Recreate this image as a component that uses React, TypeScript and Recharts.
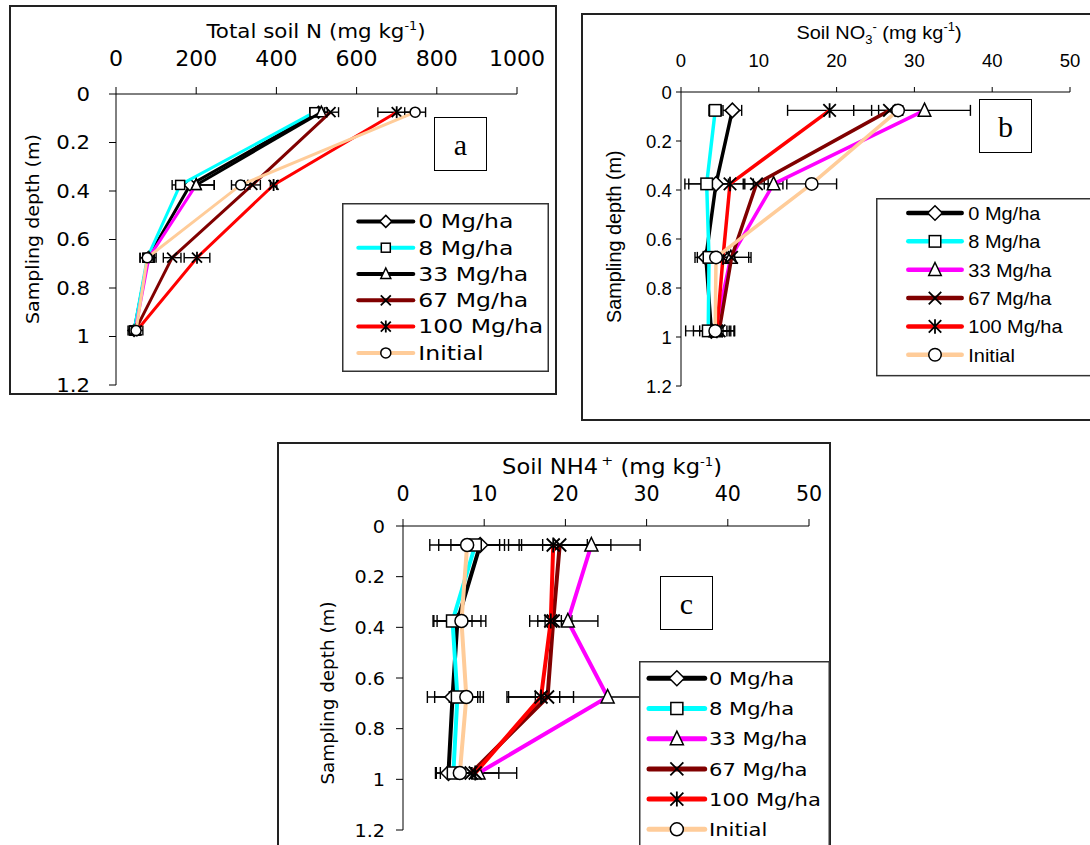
import React from "react";
import { ScatterChart, Scatter, XAxis, YAxis, ErrorBar, Legend } from "recharts";

// depth of each sampling layer midpoint (m)
const DEPTHS = [0.075, 0.375, 0.675, 0.975];
const DEPTH_TICKS = [0, 0.2, 0.4, 0.6, 0.8, 1, 1.2];

const SERIES = ["0 Mg/ha", "8 Mg/ha", "33 Mg/ha", "67 Mg/ha", "100 Mg/ha", "Initial"];
const MARKERS = ["diamond", "square", "triangle", "cross", "star", "circle"];
const COLORS = ["#000000", "#00ffff", "#ff00ff", "#800000", "#ff0000", "#ffcc99"];

// (a) total soil N, mg/kg — one row per series, one value per depth
const TOTAL_N_TICKS = [0, 200, 400, 600, 800, 1000];
const TOTAL_N = [
  [505, 185, 80, 45],
  [495, 160, 78, 45],
  [512, 200, 82, 48],
  [535, 340, 140, 48],
  [700, 393, 202, 52],
  [746, 311, 78, 50],
];
const TOTAL_N_ERR = [
  [15, 20, 20, 15],
  [12, 20, 18, 12],
  [15, 45, 12, 12],
  [20, 20, 22, 10],
  [47, 8, 32, 15],
  [26, 23, 10, 8],
];

// (b) soil NO3-, mg/kg
const NO3_TICKS = [0, 10, 20, 30, 40, 50];
const NO3 = [
  [6.6, 4.5, 3.2, 3.9],
  [4.4, 3.3, 3.6, 3.5],
  [31.3, 11.9, 6.4, 4.4],
  [26.8, 9.7, 6.5, 4.9],
  [19.1, 6.3, 5.4, 4.6],
  [27.9, 16.8, 4.5, 4.4],
];
const NO3_ERR = [
  [1.2, 3.5, 1.4, 2.3],
  [0.8, 2.8, 1.5, 2.9],
  [5.9, 1.2, 2.3, 1.5],
  [4.6, 1.5, 2.5, 2.0],
  [5.4, 3.0, 1.5, 2.2],
  [0.6, 3.2, 0.8, 1.0],
];

// (c) soil NH4+, mg/kg
const NH4_TICKS = [0, 10, 20, 30, 40, 50];
const NH4 = [
  [9.5, 6.7, 6.1, 5.6],
  [8.9, 6.1, 6.7, 6.2],
  [23.2, 20.3, 25.2, 9.3],
  [19.3, 18.5, 17.8, 8.4],
  [18.5, 18.2, 17.0, 8.9],
  [7.9, 7.2, 7.8, 7.0],
];
const NH4_ERR = [
  [5.1, 2.9, 3.1, 1.5],
  [3.0, 2.4, 2.8, 2.2],
  [6.0, 3.7, 12.4, 4.7],
  [6.3, 1.0, 1.5, 1.0],
  [4.2, 2.6, 4.0, 2.9],
  [4.6, 3.0, 2.1, 1.5],
];

const DEJAVU = "'DejaVu Sans', Verdana, sans-serif";
const ARIAL = "'Liberation Sans', Arial, sans-serif";
const AXIS_STYLE = { stroke: "#000", strokeWidth: 1 };

// the source figure's text is a little stretched sideways, so scale x only
function SText({ x, y, size, family, anchor = "start", stretch = 1, rotate = 0, children }: any) {
  const t = `translate(${x},${y})${rotate ? ` rotate(${rotate})` : ""} scale(${stretch},1)`;
  return (
    <text transform={t} fontSize={size} fontFamily={family} textAnchor={anchor} fill="#000">
      {children}
    </text>
  );
}

function Marker({ kind, cx, cy, size }: { kind: string; cx: number; cy: number; size: number }) {
  const h = size / 2;
  const box = { fill: "#fff", stroke: "#000", strokeWidth: 1.5 };
  const pen = { fill: "none", stroke: "#000", strokeWidth: 1.8 };
  switch (kind) {
    case "diamond":
      return <polygon points={`${cx},${cy - h - 1} ${cx + h + 1},${cy} ${cx},${cy + h + 1} ${cx - h - 1},${cy}`} {...box} />;
    case "square":
      return <rect x={cx - h + 0.5} y={cy - h + 0.5} width={size - 1} height={size - 1} {...box} />;
    case "triangle":
      return <polygon points={`${cx},${cy - h - 1} ${cx + h},${cy + h - 0.5} ${cx - h},${cy + h - 0.5}`} {...box} />;
    case "cross":
      return <path d={`M${cx - h},${cy - h}L${cx + h},${cy + h}M${cx - h},${cy + h}L${cx + h},${cy - h}`} {...pen} />;
    case "star":
      return (
        <path
          d={`M${cx - h},${cy - h}L${cx + h},${cy + h}M${cx - h},${cy + h}L${cx + h},${cy - h}M${cx},${cy - h - 1}L${cx},${cy + h + 1}`}
          {...pen}
        />
      );
    default:
      return <circle cx={cx} cy={cy} r={h} {...box} />;
  }
}

function buildSeries(values: number[][], errs: number[][]) {
  return SERIES.map((name, i) => ({
    key: name,
    color: COLORS[i],
    marker: MARKERS[i],
    points: DEPTHS.map((d, j) => ({ x: values[i][j], y: d, err: errs[i][j] })),
  }));
}

function LegendBox({ lg, colors }: any) {
  return (
    <svg width={lg.w} height={lg.h} style={{ display: "block" }}>
      <rect x={0.75} y={0.75} width={lg.w - 1.5} height={lg.h - 1.5} fill="#fff" stroke="#333" strokeWidth={1.5} />
      {SERIES.map((name, i) => {
        const y = lg.row0 + i * lg.dy;
        return (
          <g key={name}>
            <line x1={lg.x0} x2={lg.x1} y1={y} y2={y} stroke={colors[i]} strokeWidth={lg.lw} strokeLinecap="round" />
            <Marker kind={MARKERS[i]} cx={(lg.x0 + lg.x1) / 2} cy={y} size={lg.ms} />
            <SText x={lg.tx} y={y + lg.fs * 0.36} size={lg.fs} family={lg.font} stretch={lg.stretch}>
              {name}
            </SText>
          </g>
        );
      })}
    </svg>
  );
}

function Panel({ cfg, drawn, legendColors }: any) {
  const xTick = (p: any) => (
    <SText x={p.x} y={cfg.xt.base} size={cfg.xt.fs} family={cfg.font} anchor="middle" stretch={cfg.xt.stretch}>
      {String(p.payload.value)}
    </SText>
  );
  const yTick = (p: any) => (
    <SText x={cfg.yt.right} y={p.y + cfg.yt.fs * 0.36} size={cfg.yt.fs} family={cfg.font} anchor="end" stretch={cfg.yt.stretch}>
      {String(p.payload.value)}
    </SText>
  );
  const yTitle = () => (
    <SText x={cfg.ytitle.x} y={cfg.ytitle.y} size={cfg.ytitle.fs} family={cfg.font} anchor="middle" rotate={-90} stretch={cfg.ytitle.stretch}>
      Sampling depth (m)
    </SText>
  );
  const lg = cfg.legend;
  return (
    <div style={{ position: "absolute", left: cfg.left, top: cfg.top }}>
      <ScatterChart width={cfg.w} height={cfg.h} margin={cfg.margin}>
        <XAxis
          type="number"
          dataKey="x"
          orientation="top"
          domain={[cfg.xTicks[0], cfg.xTicks[cfg.xTicks.length - 1]]}
          ticks={cfg.xTicks}
          interval={0}
          allowDataOverflow
          height={50}
          tickSize={cfg.tickLen}
          axisLine={AXIS_STYLE}
          tickLine={AXIS_STYLE}
          tick={xTick}
          label={() => cfg.title}
        />
        <YAxis
          type="number"
          dataKey="y"
          reversed
          domain={[0, 1.2]}
          ticks={DEPTH_TICKS}
          interval={0}
          allowDataOverflow
          width={50}
          tickSize={cfg.tickLen}
          axisLine={AXIS_STYLE}
          tickLine={AXIS_STYLE}
          tick={yTick}
          label={yTitle}
        />
        {drawn.map((s: any) => (
          <Scatter
            key={s.key}
            data={s.points}
            line={{ stroke: s.color, strokeWidth: cfg.lw }}
            lineType="joint"
            legendType="none"
            isAnimationActive={false}
            shape={(p: any) => <Marker kind={s.marker} cx={p.cx} cy={p.cy} size={cfg.ms} />}
          >
            <ErrorBar dataKey="err" direction="x" width={cfg.cap} stroke="#000" strokeWidth={1.4} />
          </Scatter>
        ))}
        <Legend
          layout="vertical"
          align="center"
          verticalAlign="middle"
          wrapperStyle={{ left: lg.left, top: lg.top, width: lg.w, height: lg.h }}
          content={() => <LegendBox lg={lg} colors={legendColors} />}
        />
      </ScatterChart>
    </div>
  );
}

function Frame({ left, top, w, h }: any) {
  return (
    <div
      style={{ position: "absolute", left, top, width: w, height: h, border: "2px solid #222", boxSizing: "border-box" }}
    />
  );
}

function Tag({ left, top, text }: any) {
  return (
    <div
      style={{
        position: "absolute",
        left,
        top,
        width: 53,
        height: 54,
        boxSizing: "border-box",
        border: "1.5px solid #000",
        background: "#fff",
        display: "flex",
        alignItems: "center",
        justifyContent: "center",
        fontFamily: "'Liberation Serif', 'Times New Roman', serif",
        fontSize: 30,
        lineHeight: 1,
        paddingTop: 2,
      }}
    >
      {text}
    </div>
  );
}

const PANEL_A = {
  left: 0, top: 0, w: 560, h: 400,
  margin: { top: 44, left: 66, right: 43, bottom: 15 },
  xTicks: TOTAL_N_TICKS, tickLen: 7, font: DEJAVU,
  lw: 3, ms: 10, cap: 5,
  xt: { base: 65.5, fs: 21, stretch: 1.05 },
  yt: { right: 90, fs: 19, stretch: 1.12 },
  ytitle: { x: 38.5, y: 229, fs: 18.5, stretch: 1.03 },
  title: (
    <SText x={316} y={38} size={20} family={DEJAVU} anchor="middle" stretch={1.07}>
      Total soil N (mg kg<tspan dy={-8} fontSize={12}>-1</tspan>
      <tspan dy={8}>)</tspan>
    </SText>
  ),
  legend: {
    left: 341.7, top: 203.3, w: 207, h: 169, row0: 18.4, dy: 26.3,
    x0: 16.3, x1: 71.3, tx: 76.3, fs: 19, stretch: 1.24, lw: 4, ms: 10, font: DEJAVU,
  },
};

const PANEL_B = {
  left: 580, top: 0, w: 510, h: 425,
  margin: { top: 42, left: 51, right: 20, bottom: 39 },
  xTicks: NO3_TICKS, tickLen: 5, font: ARIAL,
  lw: 3.5, ms: 12.5, cap: 5.5,
  xt: { base: 66.6, fs: 18.5, stretch: 1 },
  yt: { right: 91.7, fs: 18.5, stretch: 1 },
  ytitle: { x: 40.5, y: 236.7, fs: 19.8, stretch: 1 },
  title: (
    <SText x={299} y={39} size={18.5} family={ARIAL} anchor="middle" stretch={1.08}>
      Soil NO<tspan dy={5} fontSize={12}>3</tspan>
      <tspan dy={-13} fontSize={12}>-</tspan>
      <tspan dy={8}> (mg kg</tspan>
      <tspan dy={-8} fontSize={12}>-1</tspan>
      <tspan dy={8}>)</tspan>
    </SText>
  ),
  legend: {
    left: 296, top: 198.3, w: 230, h: 178.4, row0: 15, dy: 28.35,
    x0: 32.3, x1: 85.7, tx: 92.3, fs: 19, stretch: 1.05, lw: 4.5, ms: 12.5, font: ARIAL,
  },
};

const PANEL_C = {
  left: 270, top: 430, w: 570, h: 415,
  margin: { top: 46, left: 83, right: 31, bottom: 15 },
  xTicks: NH4_TICKS, tickLen: 7, font: DEJAVU,
  lw: 4, ms: 13, cap: 6,
  xt: { base: 70.8, fs: 20.6, stretch: 1 },
  yt: { right: 115, fs: 18.3, stretch: 1.05 },
  ytitle: { x: 63.5, y: 263, fs: 18, stretch: 1.02 },
  title: (
    <SText x={342} y={44} size={20.5} family={DEJAVU} anchor="middle" stretch={1.1}>
      Soil NH4<tspan dx={3} dy={-9} fontSize={13}>+</tspan>
      <tspan dy={9}> (mg kg</tspan>
      <tspan dy={-8} fontSize={12}>-1</tspan>
      <tspan dy={8}>)</tspan>
    </SText>
  ),
  legend: {
    left: 369.3, top: 231, w: 191, h: 200, row0: 17.3, dy: 30.2,
    x0: 10, x1: 65.7, tx: 70, fs: 18.5, stretch: 1.14, lw: 5, ms: 13, font: DEJAVU,
  },
};

export default function App() {
  const a = buildSeries(TOTAL_N, TOTAL_N_ERR);
  // in panel a the 33 Mg/ha line is black in the top layer and magenta below it
  const aDrawn = [
    a[0],
    a[1],
    { ...a[2], key: "33-top", color: "#000000", points: a[2].points.slice(0, 2) },
    { ...a[2], key: "33-low", points: a[2].points.slice(1) },
    a[3],
    a[4],
    a[5],
  ];
  const aLegendColors = COLORS.map((c, i) => (i === 2 ? "#000000" : c));

  return (
    <div
      style={{ position: "absolute", left: 0, top: 0, width: 1090, height: 845, overflow: "hidden", background: "#fff" }}
    >
      <Frame left={9} top={5} w={548} h={390} />
      <Frame left={581} top={13} w={530} h={408} />
      <Frame left={277} top={442} w={554} h={420} />
      <Panel cfg={PANEL_A} drawn={aDrawn} legendColors={aLegendColors} />
      <Panel cfg={PANEL_B} drawn={buildSeries(NO3, NO3_ERR)} legendColors={COLORS} />
      <Panel cfg={PANEL_C} drawn={buildSeries(NH4, NH4_ERR)} legendColors={COLORS} />
      <Tag left={434} top={117} text="a" />
      <Tag left={979} top={99} text="b" />
      <Tag left={660} top={576} text="c" />
    </div>
  );
}
